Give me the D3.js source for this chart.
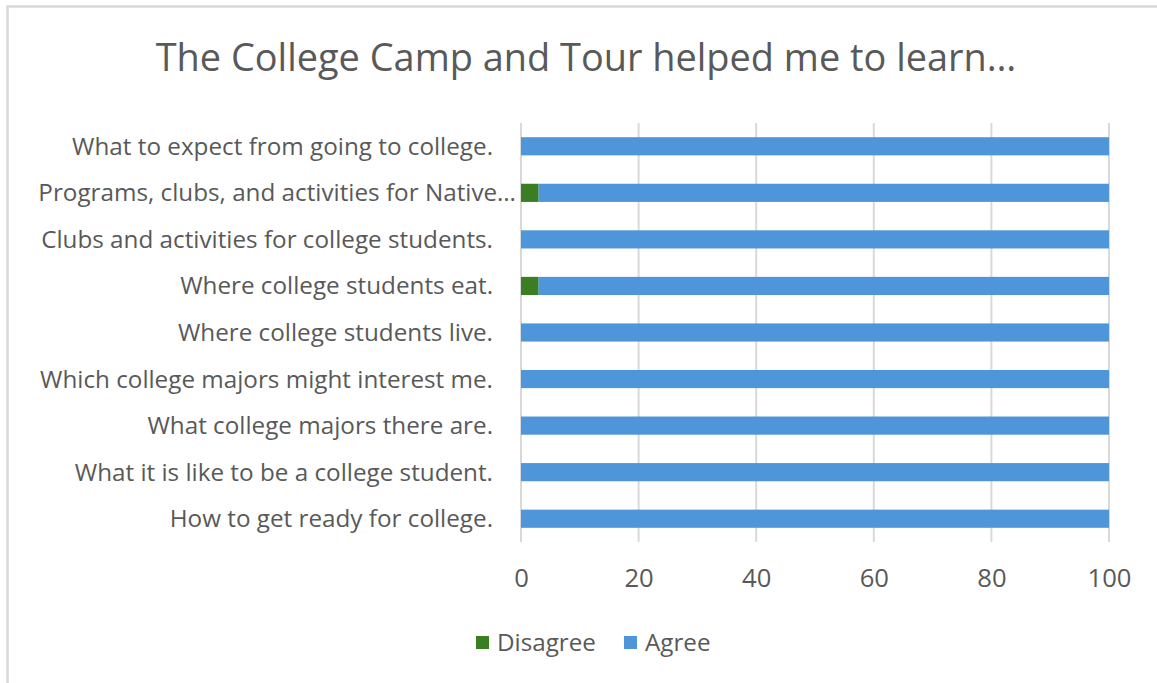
<!DOCTYPE html>
<html><head><meta charset="utf-8">
<script src="https://cdn.jsdelivr.net/npm/d3@7"></script>
<style>body{margin:0;background:#fff;} svg{display:block;}</style>
</head><body>
<svg id="chart" width="1157" height="683"></svg>
<script>
const categories = [
  "What to expect from going to college.",
  "Programs, clubs, and activities for Native…",
  "Clubs and activities for college students.",
  "Where college students eat.",
  "Where college students live.",
  "Which college majors might interest me.",
  "What college majors there are.",
  "What it is like to be a college student.",
  "How to get ready for college."
];
const disagree = [0, 3, 0, 3, 0, 0, 0, 0, 0];
const agree = [100, 97, 100, 97, 100, 100, 100, 100, 100];
const seriesNames = ["Disagree", "Agree"];
const xTicks = [0, 20, 40, 60, 80, 100];
const titleText = "The College Camp and Tour helped me to learn…";

const colors = {Disagree: "#3a7d22", Agree: "#4e95d9"};
const font = "'Open Sans', sans-serif";
const textColor = "#595959";

const svg = d3.select("#chart");
svg.append("rect").attr("x", 7.5).attr("y", 6.5).attr("width", 1160).attr("height", 690)
  .attr("fill", "#fff").attr("stroke", "#d9d9d9").attr("stroke-width", 2.5);

// measure helper: font size giving target width
function fitSize(str, target, base) {
  const t = svg.append("text").style("font-family", font).style("font-size", base + "px").text(str);
  const w = t.node().getComputedTextLength();
  t.remove();
  return base * target / w;
}
const labelSize = fitSize(categories[0], 421, 20);
const titleSize = fitSize(titleText, 861, 34);
const tickSize = fitSize("100", 44, 20);
const legendSize = fitSize("Disagree", 99, 20);

const rows = categories.map((c, i) => ({cat: c, Disagree: disagree[i], Agree: agree[i]}));
const stack = d3.stack().keys(seriesNames)(rows);

const x = d3.scaleLinear().domain([0, 100]).range([521, 1109]);
const y = d3.scaleBand().domain(categories).range([123, 542]).paddingInner(0.61).paddingOuter(0.305);

// gridlines
svg.append("g").selectAll("line").data(xTicks).join("line")
  .attr("x1", d => x(d)).attr("x2", d => x(d)).attr("y1", 123).attr("y2", 542)
  .attr("stroke", "#d9d9d9").attr("stroke-width", 2);

// bars
svg.append("g").selectAll("g").data(stack).join("g")
  .attr("fill", d => colors[d.key])
  .selectAll("rect").data(d => d).join("rect")
  .attr("x", d => x(d[0])).attr("width", d => x(d[1]) - x(d[0]))
  .attr("y", d => y(d.data.cat)).attr("height", y.bandwidth());

// x axis labels
const xAxis = d3.axisBottom(x).tickValues(xTicks).tickSize(0).tickPadding(0);
const gx = svg.append("g").attr("transform", "translate(0,569)").call(xAxis);
gx.select(".domain").remove();
gx.selectAll("text").attr("fill", textColor).style("font-family", font).style("font-size", tickSize + "px");

// y axis labels
const yAxis = d3.axisLeft(y).tickSize(0).tickPadding(0);
const gy = svg.append("g").attr("transform", "translate(493,0)").call(yAxis);
gy.select(".domain").remove();
gy.selectAll("text").attr("fill", textColor).style("font-family", font).style("font-size", labelSize + "px")
  .attr("dy", "0.35em")
  .attr("x", d => d.endsWith("…") ? 23 : 0);

// title
svg.append("text").attr("x", 586).attr("y", 58).attr("dy", "0.35em").attr("text-anchor", "middle")
  .attr("fill", textColor).style("font-family", font).style("font-size", titleSize + "px")
  .text(titleText);

// legend
const legend = svg.append("g").attr("transform", "translate(476,643)");
const legendX = [0, 148];
seriesNames.forEach((s, i) => {
  const g = legend.append("g").attr("transform", `translate(${legendX[i]},0)`);
  g.append("rect").attr("x", 0).attr("y", -7).attr("width", 13).attr("height", 13).attr("fill", colors[s]);
  g.append("text").attr("x", 21).attr("y", 0).attr("dy", "0.35em").attr("fill", textColor)
    .style("font-family", font).style("font-size", legendSize + "px").text(s);
});
</script>
</body></html>
